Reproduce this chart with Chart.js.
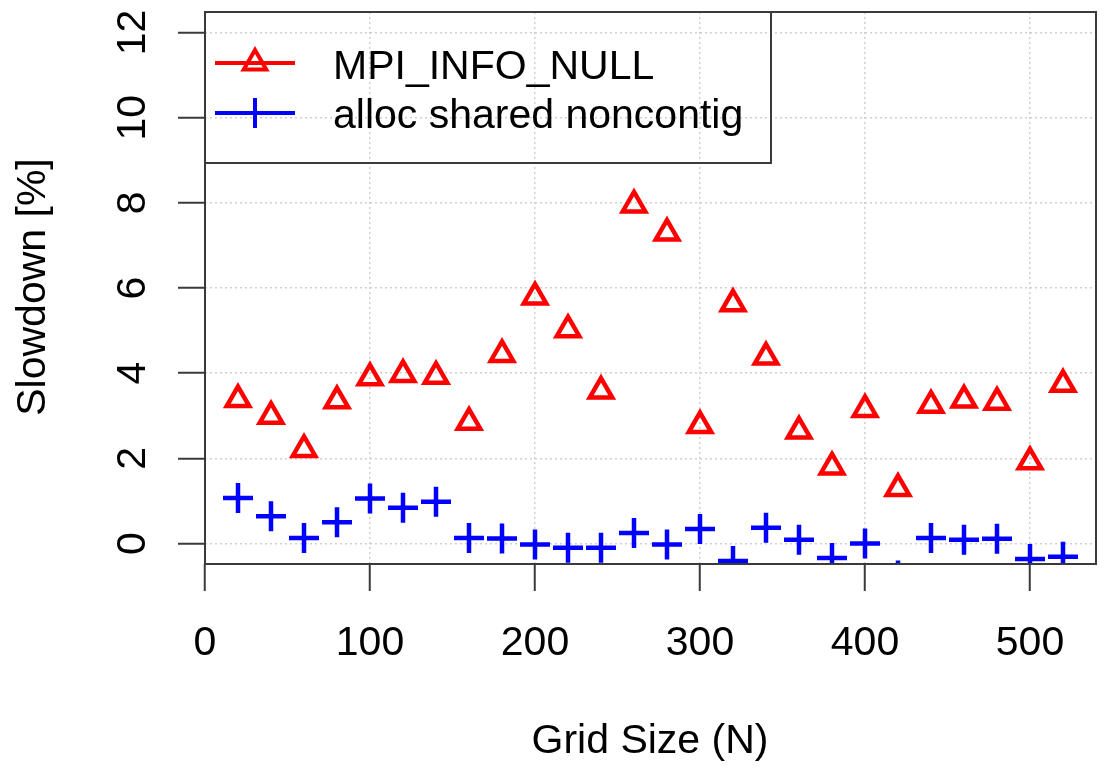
<!DOCTYPE html>
<html>
<head>
<meta charset="utf-8">
<script src="https://cdn.jsdelivr.net/npm/chart.js@4.4.1/dist/chart.umd.min.js"></script>
<style>
  html, body { margin: 0; padding: 0; background: #fff; }
  canvas { display: block; }
</style>
</head>
<body>
<canvas id="slowdownChart" width="1105" height="771"></canvas>
<script>
// --- data ---
const gridSizes = [20, 40, 60, 80, 100, 120, 140, 160, 180, 200, 220, 240, 260,
                   280, 300, 320, 340, 360, 380, 400, 420, 440, 460, 480, 500, 520];
const mpiInfoNull = [3.38, 2.99, 2.21, 3.35, 3.89, 3.97, 3.93, 2.85, 4.44, 5.79, 5.02, 3.58, 7.95,
                     7.29, 2.77, 5.63, 4.38, 2.64, 1.80, 3.15, 1.29, 3.25, 3.37, 3.32, 1.92, 3.74];
const allocShared = [1.07, 0.64, 0.13, 0.50, 1.06, 0.84, 0.98, 0.13, 0.12, -0.02, -0.10, -0.10, 0.25,
                     -0.02, 0.34, -0.41, 0.37, 0.09, -0.34, 0.00, -0.75, 0.13, 0.09, 0.11, -0.36, -0.31];
const seriesNames = ['MPI_INFO_NULL', 'alloc shared noncontig'];
const xTicks = [0, 100, 200, 300, 400, 500];
const yTicks = [0, 2, 4, 6, 8, 10, 12];
const xTitle = 'Grid Size (N)';
const yTitle = 'Slowdown [%]';

const RED = '#ff0000';
const BLUE = '#0000ff';
const AXIS = '#3a3a3a';
const FONT = '41px "Liberation Sans", Arial, Helvetica, sans-serif';
const MARK_W = 4.5;

function toPoints(ys) {
    return gridSizes.map((x, i) => ({ x: x, y: ys[i] }));
}

// R-like decorations: box, legend, rotated y labels, titles
const rDecor = {
    id: 'rDecor',
    afterDraw(chart) {
        const ctx = chart.ctx;
        const area = chart.chartArea;
        const xs = chart.scales.x;
        const ys = chart.scales.y;

        ctx.save();
        // plot box
        ctx.strokeStyle = AXIS;
        ctx.lineWidth = 2;
        ctx.strokeRect(area.left, area.top, area.right - area.left, area.bottom - area.top);

        ctx.fillStyle = '#000';
        ctx.font = FONT;

        // x tick labels
        ctx.textAlign = 'center';
        ctx.textBaseline = 'alphabetic';
        xs.ticks.forEach(t => {
            ctx.fillText(String(t.value), xs.getPixelForValue(t.value), 655);
        });

        // y tick labels, parallel to axis
        ys.ticks.forEach(t => {
            ctx.save();
            ctx.translate(145, ys.getPixelForValue(t.value));
            ctx.rotate(-Math.PI / 2);
            ctx.fillText(String(t.value), 0, 0);
            ctx.restore();
        });

        // axis titles
        ctx.fillText(xTitle, 650, 753);
        ctx.save();
        ctx.translate(45, 287);
        ctx.rotate(-Math.PI / 2);
        ctx.fillText(yTitle, 0, 0);
        ctx.restore();

        // legend
        const lx = area.left, ly = area.top;
        ctx.strokeStyle = AXIS;
        ctx.lineWidth = 2;
        ctx.strokeRect(lx, ly, 771 - lx, 163 - ly);

        const rows = [
            { y: 63, color: RED, style: 'triangle', r: 13, text: seriesNames[0], base: 79 },
            { y: 113, color: BLUE, style: 'cross', r: 15, text: seriesNames[1], base: 128 }
        ];
        rows.forEach(row => {
            ctx.strokeStyle = row.color;
            ctx.fillStyle = 'rgba(0,0,0,0)';
            ctx.lineWidth = 4;
            ctx.beginPath();
            ctx.moveTo(215, row.y);
            ctx.lineTo(295, row.y);
            ctx.stroke();
            Chart.helpers.drawPoint(ctx, {
                pointStyle: row.style, radius: row.r, rotation: 0, borderWidth: MARK_W
            }, 255, row.y);
            ctx.fillStyle = '#000';
            ctx.textAlign = 'left';
            ctx.fillText(row.text, 333, row.base);
        });
        ctx.restore();
    }
};

const sharedGrid = {
    color: '#cfcfcf',
    lineWidth: 1.5,
    drawTicks: true,
    tickLength: 27,
    tickColor: AXIS,
    tickWidth: 2
};

new Chart(document.getElementById('slowdownChart').getContext('2d'), {
    type: 'scatter',
    data: {
        datasets: [
            {
                label: seriesNames[0],
                data: toPoints(mpiInfoNull),
                pointStyle: 'triangle',
                pointRadius: 13,
                pointBorderWidth: MARK_W,
                borderColor: RED,
                backgroundColor: 'rgba(0,0,0,0)',
                clip: 0
            },
            {
                label: seriesNames[1],
                data: toPoints(allocShared),
                pointStyle: 'cross',
                pointRadius: 15,
                pointBorderWidth: MARK_W,
                borderColor: BLUE,
                backgroundColor: 'rgba(0,0,0,0)',
                clip: 0
            }
        ]
    },
    options: {
        responsive: false,
        devicePixelRatio: 1,
        animation: false,
        events: [],
        layout: { autoPadding: false, padding: { top: 12, right: 9, left: 0, bottom: 0 } },
        plugins: {
            legend: { display: false },
            tooltip: { enabled: false }
        },
        scales: {
            x: {
                type: 'linear',
                min: 0,
                max: 540,
                grid: sharedGrid,
                border: { display: false, dash: [2, 3] },
                ticks: { display: false },
                afterBuildTicks: scale => { scale.ticks = xTicks.map(v => ({ value: v })); },
                afterFit: scale => { scale.height = 771 - 564; }
            },
            y: {
                type: 'linear',
                min: -0.48,
                max: 12.48,
                grid: sharedGrid,
                border: { display: false, dash: [2, 3] },
                ticks: { display: false },
                afterBuildTicks: scale => { scale.ticks = yTicks.map(v => ({ value: v })); },
                afterFit: scale => { scale.width = 205; }
            }
        }
    },
    plugins: [rDecor]
});
</script>
</body>
</html>
